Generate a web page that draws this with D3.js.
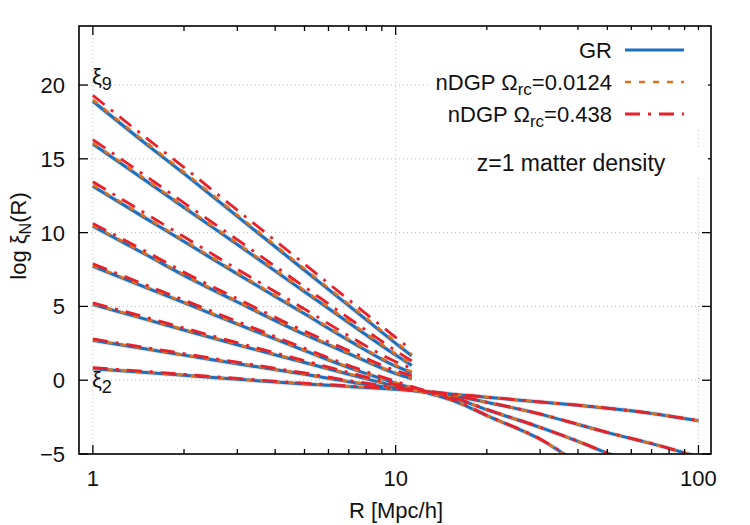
<!DOCTYPE html>
<html><head><meta charset="utf-8">
<script src="https://cdn.jsdelivr.net/npm/d3@7"></script>
<style>
body{margin:0;background:#fff;}
text{font-family:"Liberation Sans",Arial,Helvetica,sans-serif;fill:#111;}
</style></head>
<body><svg id="c" width="750" height="525"></svg>
<script>
// ---- data ----
const R_short = [1, 1.5, 2, 3, 5, 7, 10, 11.3];
const R_long  = [1, 1.5, 2, 3, 5, 7, 10, 13, 16, 20, 30, 40, 50, 70, 100];

// GR
const xi2_GR = [0.78, 0.52, 0.33, 0.06, -0.25, -0.43, -0.62, -0.80, -0.98, -1.15, -1.48, -1.70, -1.90, -2.25, -2.75];
const xi3_GR = [2.70, 2.11, 1.70, 1.12, 0.40, -0.10, -0.55, -0.85, -1.10, -1.50, -2.30, -3.00, -3.55, -4.30, -5.20];
const xi4_GR = [5.12, 4.12, 3.40, 2.40, 1.20, 0.40, -0.40, -0.90, -1.30, -2.00, -3.20, -4.15, -4.95, -6.0, -7.0];
const xi5_GR = [7.72, 6.27, 5.25, 3.80, 2.00, 0.85, -0.20, -0.90, -1.50, -2.40, -4.00, -5.60, -6.8, -8.0, -9.0];
const xi6_GR = [10.43, 8.50, 7.10, 5.30, 3.10, 1.80, 0.45, 0.10];
const xi7_GR = [13.15, 10.95, 9.40, 7.20, 4.50, 2.70, 0.95, 0.50];
const xi8_GR = [16.00, 13.50, 11.70, 9.20, 6.00, 3.90, 1.70, 1.00];
const xi9_GR = [18.90, 16.00, 14.00, 11.10, 7.45, 5.05, 2.50, 1.65];

// nDGP Omega_rc = 0.0124
const xi2_N1 = [0.79, 0.53, 0.34, 0.07, -0.24, -0.42, -0.61, -0.80, -0.98, -1.15, -1.48, -1.70, -1.90, -2.25, -2.75];
const xi3_N1 = [2.72, 2.13, 1.72, 1.14, 0.42, -0.08, -0.54, -0.84, -1.10, -1.50, -2.30, -3.00, -3.55, -4.30, -5.20];
const xi4_N1 = [5.15, 4.15, 3.43, 2.43, 1.23, 0.43, -0.38, -0.89, -1.29, -2.00, -3.20, -4.15, -4.95, -6.0, -7.0];
const xi5_N1 = [7.76, 6.31, 5.29, 3.84, 2.04, 0.88, -0.18, -0.89, -1.49, -2.40, -4.00, -5.60, -6.8, -8.0, -9.0];
const xi6_N1 = [10.48, 8.55, 7.15, 5.35, 3.15, 1.85, 0.50, 0.15];
const xi7_N1 = [13.22, 11.02, 9.47, 7.27, 4.57, 2.77, 1.02, 0.57];
const xi8_N1 = [16.08, 13.58, 11.78, 9.28, 6.08, 3.98, 1.78, 1.08];
const xi9_N1 = [19.00, 16.10, 14.10, 11.20, 7.55, 5.15, 2.60, 1.75];

// nDGP Omega_rc = 0.438
const xi2_N2 = [0.85, 0.59, 0.40, 0.12, -0.20, -0.38, -0.58, -0.77, -0.96, -1.14, -1.47, -1.69, -1.89, -2.24, -2.74];
const xi3_N2 = [2.80, 2.21, 1.80, 1.22, 0.49, -0.02, -0.48, -0.80, -1.07, -1.48, -2.28, -2.98, -3.53, -4.28, -5.18];
const xi4_N2 = [5.24, 4.26, 3.54, 2.54, 1.33, 0.52, -0.30, -0.83, -1.25, -1.97, -3.18, -4.13, -4.93, -6.0, -7.0];
const xi5_N2 = [7.88, 6.45, 5.43, 3.98, 2.17, 1.00, -0.08, -0.82, -1.44, -2.37, -3.98, -5.58, -6.8, -8.0, -9.0];
const xi6_N2 = [10.62, 8.72, 7.32, 5.52, 3.32, 2.01, 0.65, 0.30];
const xi7_N2 = [13.45, 11.27, 9.72, 7.52, 4.82, 3.01, 1.25, 0.80];
const xi8_N2 = [16.30, 13.82, 12.02, 9.52, 6.32, 4.21, 2.00, 1.30];
const xi9_N2 = [19.30, 16.42, 14.42, 11.52, 7.87, 5.45, 2.90, 2.05];

const yTicks = [-5, 0, 5, 10, 15, 20];
const xTicks = [1, 10, 100];
const seriesNames = ["GR", "nDGP \u03A9rc=0.0124", "nDGP \u03A9rc=0.438"];

// ---- layout ----
const L = 79, Rt = 711, T = 26, B = 454;
const svg = d3.select("#c");
const x = d3.scaleLog().domain([0.9, 110]).range([L, Rt]);
const y = d3.scaleLinear().domain([-5, 24]).range([B, T]);

const colors = ["#1b6fbd", "#e0701c", "#e8202a"];
const widths = [3, 2.6, 2.8];
const dashes = [null, "6,8", "15,8,3,8"];

// grid
const grid = svg.append("g");
xTicks.forEach(v => grid.append("line").attr("x1", x(v)).attr("x2", x(v)).attr("y1", T).attr("y2", B)
  .attr("stroke", "#bbb").attr("stroke-width", 1).attr("stroke-dasharray", "1,3"));
yTicks.forEach(v => grid.append("line").attr("x1", L).attr("x2", Rt).attr("y1", y(v)).attr("y2", y(v))
  .attr("stroke", "#bbb").attr("stroke-width", 1).attr("stroke-dasharray", "1,3"));

// clip
svg.append("clipPath").attr("id", "clip").append("rect").attr("x", L).attr("y", T).attr("width", Rt - L).attr("height", B - T);

const line = d3.line().x(d => x(d[0])).y(d => y(d[1])).curve(d3.curveMonotoneX);
const curves = [
  [R_long, [xi2_GR, xi2_N1, xi2_N2]],
  [R_long, [xi3_GR, xi3_N1, xi3_N2]],
  [R_long, [xi4_GR, xi4_N1, xi4_N2]],
  [R_long, [xi5_GR, xi5_N1, xi5_N2]],
  [R_short, [xi6_GR, xi6_N1, xi6_N2]],
  [R_short, [xi7_GR, xi7_N1, xi7_N2]],
  [R_short, [xi8_GR, xi8_N1, xi8_N2]],
  [R_short, [xi9_GR, xi9_N1, xi9_N2]]
];
const plot = svg.append("g").attr("clip-path", "url(#clip)");
curves.forEach(([rs, ss]) => {
  plot.append("path").attr("d", line(rs.map((r, i) => [r, ss[0][i]])))
    .attr("fill", "none").attr("stroke", "#d0d0d0").attr("stroke-width", 5).attr("opacity", 0.6);
});
[0, 1, 2].forEach(k => {
  curves.forEach(([rs, ss]) => {
    plot.append("path").attr("d", line(rs.map((r, i) => [r, ss[k][i]])))
      .attr("fill", "none").attr("stroke", colors[k]).attr("stroke-width", widths[k])
      .attr("stroke-dasharray", dashes[k]);
  });
});

// frame
svg.append("rect").attr("x", L).attr("y", T).attr("width", Rt - L).attr("height", B - T)
  .attr("fill", "none").attr("stroke", "#000").attr("stroke-width", 1.6);

// ticks
const tk = svg.append("g").attr("stroke", "#000").attr("stroke-width", 1.3);
const minor = [];
[1, 10].forEach(d => { for (let m = 2; m <= 9; m++) minor.push(d * m); });
xTicks.forEach(v => {
  tk.append("line").attr("x1", x(v)).attr("x2", x(v)).attr("y1", B).attr("y2", B - 9);
  tk.append("line").attr("x1", x(v)).attr("x2", x(v)).attr("y1", T).attr("y2", T + 9);
});
minor.forEach(v => {
  tk.append("line").attr("x1", x(v)).attr("x2", x(v)).attr("y1", B).attr("y2", B - 5);
  tk.append("line").attr("x1", x(v)).attr("x2", x(v)).attr("y1", T).attr("y2", T + 5);
});
yTicks.forEach(v => {
  tk.append("line").attr("x1", L).attr("x2", L + 9).attr("y1", y(v)).attr("y2", y(v));
  tk.append("line").attr("x1", Rt).attr("x2", Rt - 9).attr("y1", y(v)).attr("y2", y(v));
});

// tick labels
const fs = 22;
yTicks.forEach(v => svg.append("text").attr("x", 65).attr("y", y(v)).attr("dy", "0.36em")
  .attr("text-anchor", "end").attr("font-size", fs).text(v < 0 ? "\u2212" + Math.abs(v) : v));
xTicks.forEach(v => svg.append("text").attr("x", x(v)).attr("y", 486)
  .attr("text-anchor", "middle").attr("font-size", fs).text(v));

// axis titles
svg.append("text").attr("x", 396).attr("y", 518).attr("text-anchor", "middle").attr("font-size", fs).text("R [Mpc/h]");
const yt = svg.append("text").attr("transform", "translate(26,236) rotate(-90)").attr("text-anchor", "middle").attr("font-size", fs);
yt.append("tspan").text("log \u03BE");
yt.append("tspan").attr("font-size", 16).attr("dy", 5).text("N");
yt.append("tspan").attr("dy", -5).text("(R)");

// xi labels
const l9 = svg.append("text").attr("x", 92).attr("y", 84).attr("font-size", fs);
l9.append("tspan").text("\u03BE"); l9.append("tspan").attr("font-size", 18).attr("dy", 6).text("9");
const l2 = svg.append("text").attr("x", 92).attr("y", 387).attr("font-size", fs);
l2.append("tspan").text("\u03BE"); l2.append("tspan").attr("font-size", 18).attr("dy", 6).text("2");

// legend (opaque)
svg.append("rect").attr("x", 430).attr("y", 30).attr("width", 278).attr("height", 100).attr("fill", "#fff");
const legY = [50, 82, 114];
seriesNames.forEach((n, k) => {
  const t = svg.append("text").attr("x", 612).attr("y", legY[k]).attr("dy", "0.36em").attr("text-anchor", "end").attr("font-size", fs);
  if (k === 0) t.text(n);
  else {
    const parts = n.split("\u03A9rc");
    t.append("tspan").text(parts[0] + "\u03A9");
    t.append("tspan").attr("font-size", 17).attr("dy", 5).text("rc");
    t.append("tspan").attr("dy", -5).text(parts[1]);
  }
  svg.append("line").attr("x1", 625).attr("x2", 684).attr("y1", legY[k]).attr("y2", legY[k])
    .attr("stroke", colors[k]).attr("stroke-width", widths[k]).attr("stroke-dasharray", dashes[k]);
});
svg.append("rect").attr("x", 474).attr("y", 148).attr("width", 234).attr("height", 30).attr("fill", "#fff");
svg.append("text").attr("x", 571).attr("y", 163).attr("dy", "0.36em").attr("text-anchor", "middle").attr("font-size", 23).text("z=1 matter density");
</script></body></html>
